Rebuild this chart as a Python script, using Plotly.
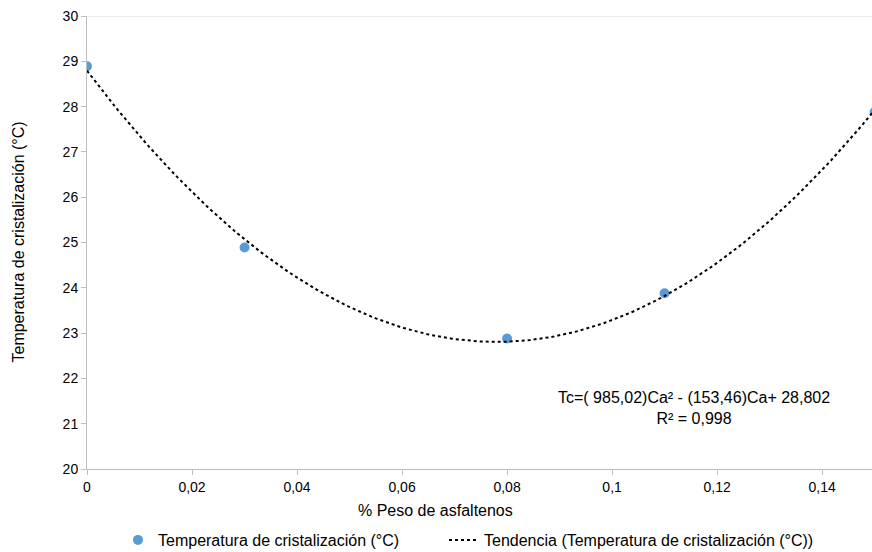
import numpy as np
import plotly.graph_objects as go

# Data
asfaltenos = [0.0, 0.03, 0.08, 0.11, 0.15]          # % Peso de asfaltenos
temperatura = [28.89, 24.89, 22.88, 23.88, 27.88]   # Temperatura de cristalización (°C)

x_ticks = [0, 0.02, 0.04, 0.06, 0.08, 0.1, 0.12, 0.14]
y_ticks = [20, 21, 22, 23, 24, 25, 26, 27, 28, 29, 30]

# Polynomial (order 2) trend, as the spreadsheet does
coef = np.polyfit(asfaltenos, temperatura, 2)
xt = np.linspace(0, 0.15, 200)
yt = np.polyval(coef, xt)

FAM = "Liberation Sans, Arial, sans-serif"
L, R, T, B = 87, 0, 16, 83
W, H = 872, 552
PW = W - L - R
PH = H - T - B


def px(xpix):
    return (xpix - L) / PW


def py(ypix):
    return (H - B - ypix) / PH


fig = go.Figure()
fig.add_trace(go.Scatter(
    x=asfaltenos, y=temperatura, mode="markers",
    name="Temperatura de cristalización (°C)",
    marker=dict(color="#5B9BD5", size=10, line=dict(width=0)),
    legend="legend",
))
fig.add_trace(go.Scatter(
    x=xt, y=yt, mode="lines",
    name="Tendencia (Temperatura de cristalización (°C))",
    line=dict(color="#000000", width=2, dash="dot"),
    legend="legend2",
))

# trendline equation
fig.add_annotation(
    x=px(694), y=py(408), xref="paper", yref="paper",
    xanchor="center", yanchor="middle",
    text="Tc=( 985,02)Ca² - (153,46)Ca+ 28,802<br>R² = 0,998",
    showarrow=False, align="center",
    font=dict(family=FAM, size=16, color="#000000"),
)
# axis titles
fig.add_annotation(
    x=px(435), y=py(510), xref="paper", yref="paper",
    xanchor="center", yanchor="middle", showarrow=False,
    text="% Peso de asfaltenos",
    font=dict(family=FAM, size=16, color="#000000"),
)
fig.add_annotation(
    x=px(18), y=0.5, xref="paper", yref="paper",
    xanchor="center", yanchor="middle", showarrow=False, textangle=-90,
    text="Temperatura de cristalización (°C)",
    font=dict(family=FAM, size=16, color="#000000"),
)

legend_common = dict(orientation="h", yanchor="top", xanchor="left",
                     yref="container", y=1 - 523 / H,
                     font=dict(family=FAM, size=16), bgcolor="rgba(0,0,0,0)")

fig.update_layout(
    width=W, height=H,
    margin=dict(l=L, r=R, t=T, b=B),
    paper_bgcolor="white", plot_bgcolor="white",
    font=dict(family=FAM, size=14, color="#000000"),
    separators=", ",
    showlegend=True,
    legend=dict(x=px(118), **legend_common),
    legend2=dict(x=px(444), **legend_common),
    xaxis=dict(
        range=[0, 0.1495], tickvals=x_ticks, automargin=False,
        showgrid=False, zeroline=False,
        showline=True, linecolor="#BFBFBF", linewidth=1,
        ticks="outside", ticklen=5, tickcolor="#BFBFBF",
        tickfont=dict(size=14),
    ),
    yaxis=dict(
        range=[20, 30], tickvals=y_ticks, automargin=False,
        showgrid=False, zeroline=False,
        showline=True, linecolor="#BFBFBF", linewidth=1,
        ticks="outside", ticklen=5, tickcolor="#BFBFBF",
        tickfont=dict(size=14),
    ),
)

# top border line at y=30
fig.add_shape(type="line", xref="paper", yref="y", x0=0, x1=1, y0=30, y1=30,
              line=dict(color="#D9D9D9", width=1))

post = (
    "var s=document.createElement('style');"
    "s.innerHTML='html,body{margin:0;padding:0;overflow:hidden;width:872px;height:552px;}';"
    "document.head.appendChild(s);"
)

fig.write_html(
    "out.html",
    config={"displayModeBar": False},
    post_script=post,
)
